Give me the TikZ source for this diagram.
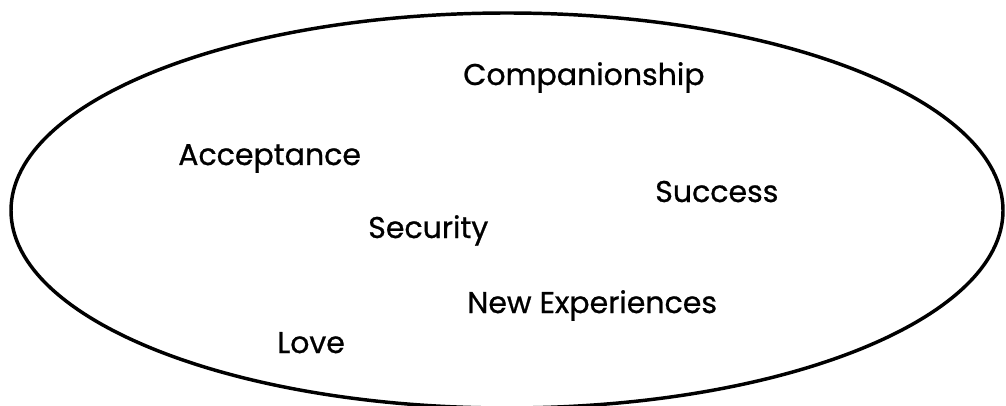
\documentclass[tikz,border=0pt]{standalone}
\usepackage{fontspec}
\setmainfont{Poppins}[FakeBold=0.8]
\begin{document}
\begin{tikzpicture}[x=0.75pt,y=-0.75pt,
  word/.style={anchor=base west,inner sep=0pt,font=\fontsize{22.5}{26}\selectfont}]
  \useasboundingbox (0,0) rectangle (1006,406);
  % the enclosing loop (its lowest part runs past the lower edge)
  \begin{scope}
    \clip (0,0) rectangle (1006,406);
    \draw[line width=2.6pt] (507,210.5) ellipse [x radius=496,y radius=197.5];
  \end{scope}
  \node[word] (comp) at (463,85)  {Companionship};
  \node[word] (acc)  at (178,165) {Acceptance};
  \node[word] (succ) at (655,202) {Success};
  \node[word] (sec)  at (368,238) {Security};
  \node[word] (newx) at (467,313) {New Experiences};
  \node[word] (love) at (277,353) {Love};
\end{tikzpicture}
\end{document}
